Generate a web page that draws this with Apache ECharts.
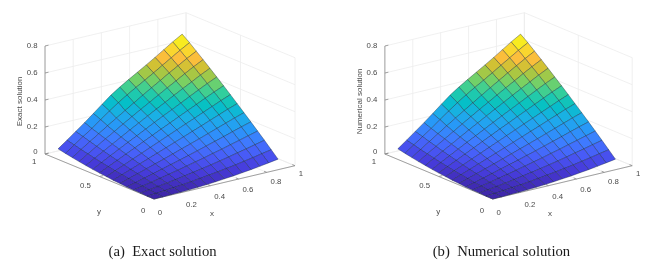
<!DOCTYPE html>
<html>
<head>
<meta charset="utf-8">
<style>
html,body{margin:0;padding:0;background:#fff}
#chart{width:651px;height:265px;filter:blur(0.3px)}
</style>
<script src="https://cdn.jsdelivr.net/npm/echarts@6/dist/echarts.min.js"></script>
</head>
<body>
<div id="chart"></div>
<script>
// ---- data ----
const gridX = [0,0.0625,0.125,0.1875,0.25,0.3125,0.375,0.4375,0.5,0.5625,0.625,0.6875,0.75,0.8125,0.88];
const gridY = gridX;
const surfaceZ = [
[0.000,0.000,0.002,0.004,0.006,0.010,0.014,0.020,0.026,0.032,0.040,0.048,0.057,0.067,0.078],
[0.000,0.005,0.010,0.017,0.023,0.031,0.039,0.048,0.057,0.067,0.077,0.089,0.101,0.114,0.127],
[0.002,0.011,0.020,0.030,0.040,0.052,0.063,0.075,0.088,0.101,0.115,0.130,0.144,0.160,0.176],
[0.004,0.017,0.030,0.044,0.058,0.073,0.088,0.104,0.119,0.136,0.152,0.170,0.187,0.205,0.224],
[0.006,0.023,0.040,0.058,0.076,0.094,0.112,0.131,0.150,0.170,0.189,0.209,0.230,0.250,0.271],
[0.010,0.031,0.052,0.073,0.094,0.115,0.137,0.159,0.181,0.203,0.226,0.249,0.272,0.295,0.318],
[0.014,0.039,0.063,0.088,0.112,0.137,0.162,0.187,0.212,0.237,0.262,0.288,0.313,0.339,0.364],
[0.020,0.047,0.075,0.103,0.131,0.159,0.187,0.215,0.243,0.271,0.298,0.326,0.354,0.382,0.410],
[0.026,0.057,0.088,0.119,0.150,0.181,0.212,0.243,0.273,0.304,0.334,0.364,0.395,0.425,0.455],
[0.032,0.067,0.101,0.136,0.170,0.203,0.237,0.271,0.304,0.336,0.369,0.402,0.435,0.467,0.499],
[0.040,0.078,0.115,0.152,0.189,0.226,0.262,0.298,0.334,0.369,0.405,0.440,0.474,0.509,0.543],
[0.048,0.089,0.130,0.170,0.209,0.249,0.288,0.326,0.364,0.402,0.440,0.476,0.514,0.550,0.586],
[0.057,0.101,0.144,0.187,0.230,0.272,0.313,0.354,0.395,0.435,0.474,0.514,0.552,0.590,0.628],
[0.067,0.114,0.160,0.205,0.255,0.303,0.350,0.392,0.432,0.470,0.509,0.550,0.590,0.630,0.670],
[0.078,0.127,0.176,0.226,0.278,0.332,0.384,0.428,0.468,0.507,0.546,0.586,0.628,0.670,0.711]
];
const ticksX = [0,0.2,0.4,0.6,0.8,1];
const ticksY = [0,0.5,1];
const ticksZ = [0,0.2,0.4,0.6,0.8];
const tickLabelsX = ['0','0.2','0.4','0.6','0.8','1'];
const tickLabelsY = ['0','0.5','1'];
const tickLabelsZ = ['0','0.2','0.4','0.6','0.8'];
const zTitles = ['Exact solution','Numerical solution'];
const captions = ['(a)  Exact solution','(b)  Numerical solution'];

// parula colour map, sampled
const parula = [[62,38,168],[71,60,220],[72,92,248],[62,124,255],[40,152,248],[28,174,232],[4,192,198],[45,206,160],[120,208,100],[195,194,50],[254,190,60],[248,228,38],[249,251,20]];

// ---- oblique view of the box, in plane units ----
const view = {xs:141,xr:33.3,ys:-109,yr:45,zr:135};
const project = (x,y,z)=>[view.xs*x+view.ys*y, view.xr*x+view.yr*y+view.zr*z];
const zMax = 0.711;
function colour(v){
  const t=Math.max(0,Math.min(1,v/zMax))*(parula.length-1), k=Math.min(parula.length-2,Math.floor(t)), f=t-k;
  const c=parula[k].map((a,n)=>Math.round(a+(parula[k+1][n]-a)*f));
  return 'rgb('+c.join(',')+')';
}

// frame segments
const wallLines=[], axisLines=[];
ticksZ.forEach(z=>{ wallLines.push([0,1,z,1,1,z]); wallLines.push([1,1,z,1,0,z]); });
ticksX.forEach(x=>{ wallLines.push([x,1,0,x,1,0.8]); wallLines.push([x,0,0,x,1,0]); });
ticksY.forEach(y=>{ wallLines.push([1,y,0,1,y,0.8]); wallLines.push([0,y,0,1,y,0]); });
axisLines.push([0,0,0,1,0,0],[0,0,0,0,1,0],[0,1,0,0,1,0.8]);
ticksX.forEach(x=>axisLines.push([x,0,0,x,0.025,0]));
ticksY.forEach(y=>axisLines.push([0,y,0,0.025,y,0]));
ticksZ.forEach(z=>axisLines.push([0,1,z,0.025,1,z]));

// text items
function textItems(panel){
  const out=[];
  ticksX.forEach((x,i)=>out.push({p:project(x,0,0),t:tickLabelsX[i],a:'left',dx:3.8,dy:13.5-5*x}));
  ticksY.forEach((y,i)=>out.push({p:project(0,y,0),t:tickLabelsY[i],a:'right',dx:-8.7,dy:12-4.3*y}));
  ticksZ.forEach((z,i)=>out.push({p:project(0,1,z),t:tickLabelsZ[i],a:'right',dx:-7.5,dy:z===0?-2:0}));
  out.push({p:project(0.45,0,0),t:'x',a:'center',dx:-5.5,dy:30,fs:8});
  out.push({p:project(0,0.5,0),t:'y',a:'center',dx:-0.5,dy:35,fs:8});
  out.push({p:project(0,1,0.4),t:zTitles[panel],a:'center',dx:-25.3,dy:1.4,fs:8,rot:Math.PI/2});
  return out;
}

const quads=[];
for(let j=gridY.length-2;j>=0;j--) for(let i=gridX.length-2;i>=0;i--) quads.push([i,j]);

function segRender(style){
  return function(params,api){
    const L=style.list[params.dataIndex];
    const a=api.coord(project(L[0],L[1],L[2])), b=api.coord(project(L[3],L[4],L[5]));
    return {type:'line',shape:{x1:a[0],y1:a[1],x2:b[0],y2:b[1]},style:{stroke:style.stroke,lineWidth:style.width},silent:true};
  };
}
function surfaceRender(zt){
  return function(params,api){
    const q=quads[params.dataIndex], i=q[0], j=q[1];
    const c=[[i,j],[i+1,j],[i+1,j+1],[i,j+1]];
    const pts=c.map(n=>api.coord(project(gridX[n[0]],gridY[n[1]],zt[n[1]][n[0]])));
    const mean=(zt[j][i]+zt[j][i+1]+zt[j+1][i]+zt[j+1][i+1])/4;
    return {type:'polygon',shape:{points:pts},style:{fill:colour(mean),stroke:'rgba(15,30,50,0.6)',lineWidth:0.6,lineJoin:'round'},silent:true};
  };
}
function textRender(items){
  return function(params,api){
    const it=items[params.dataIndex], a=api.coord(it.p);
    return {type:'text',x:a[0]+it.dx,y:a[1]+it.dy,rotation:it.rot||0,silent:true,
      style:{text:it.t,align:it.a,verticalAlign:'middle',fill:'#4a4a4a',font:(it.fs||7.8)+'px "Liberation Sans"'}};
  };
}
const grids=[], xAxes=[], yAxes=[], series=[], titles=[];
const captionLeft=[108.5,432.7];
[0,1].forEach(panel=>{
  grids.push({left:34+340*panel,top:9,width:280,height:200});
  xAxes.push({type:'value',gridIndex:panel,min:-120,max:160,show:false});
  yAxes.push({type:'value',gridIndex:panel,min:-10,max:190,show:false});
  const base={type:'custom',coordinateSystem:'cartesian2d',xAxisIndex:panel,yAxisIndex:panel,animation:false,silent:true,clip:false};
  const dummy=list=>list.map((_,n)=>[n,n]);
  series.push(Object.assign({},base,{z:1,data:dummy(wallLines),renderItem:segRender({list:wallLines,stroke:'#ececec',width:0.8})}));
  series.push(Object.assign({},base,{z:2,data:dummy(axisLines),renderItem:segRender({list:axisLines,stroke:'#8c8c8c',width:0.8})}));
  series.push(Object.assign({},base,{z:3,data:dummy(quads),renderItem:surfaceRender(surfaceZ)}));
  const items=textItems(panel);
  series.push(Object.assign({},base,{z:4,data:dummy(items),renderItem:textRender(items)}));
  titles.push({text:captions[panel],left:captionLeft[panel],top:245,padding:0,
    textStyle:{fontFamily:'"Liberation Serif"',fontSize:14.7,fontWeight:'normal',color:'#1a1a1a'}});
});
const chart=echarts.init(document.getElementById('chart'),null,{renderer:'canvas'});
chart.setOption({animation:false,backgroundColor:'#fff',title:titles,grid:grids,xAxis:xAxes,yAxis:yAxes,series:series,tooltip:{show:false}});
</script>
</body>
</html>
